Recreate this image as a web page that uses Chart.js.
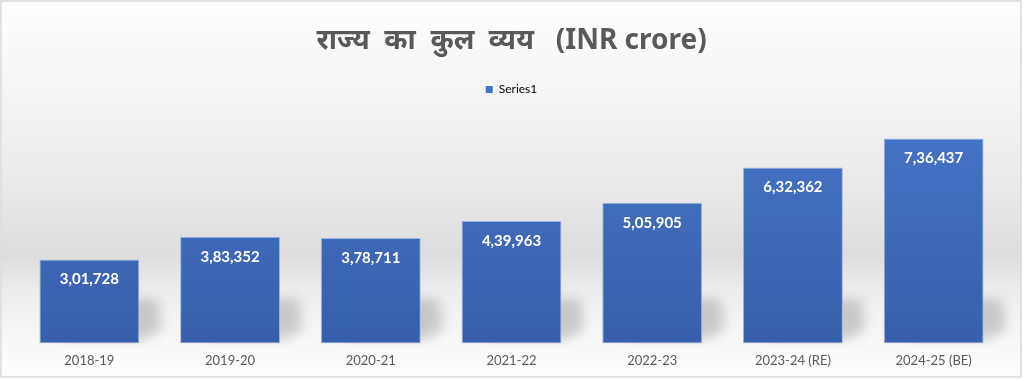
<!DOCTYPE html>
<html>
<head>
<meta charset="utf-8">
<script src="https://cdn.jsdelivr.net/npm/chart.js@4/dist/chart.umd.min.js"></script>
<style>
html,body{margin:0;padding:0;background:#ffffff;}
#wrap{position:relative;width:1024px;height:381px;}
</style>
</head>
<body>
<div id="wrap"><canvas id="c" width="1024" height="381"></canvas></div>
<script>
const categories = ["2018-19", "2019-20", "2020-21", "2021-22", "2022-23", "2023-24 (RE)", "2024-25 (BE)"];
const seriesValues = [301728, 383352, 378711, 439963, 505905, 632362, 736437];
const seriesLabel = "Series1";
const chartTitle = "राज्य  का  कुल  व्यय   (INR crore)";

function fmtIN(n) {
  const s = String(Math.round(n));
  if (s.length <= 3) return s;
  const last3 = s.slice(-3);
  let rest = s.slice(0, -3);
  const parts = [];
  while (rest.length > 2) { parts.unshift(rest.slice(-2)); rest = rest.slice(0, -2); }
  if (rest.length) parts.unshift(rest);
  return parts.join(",") + "," + last3;
}

const bgPlugin = {
  id: "bg",
  beforeDraw(chart) {
    const ctx = chart.ctx;
    const H = chart.height;
    ctx.save();
    const g = ctx.createLinearGradient(0, 0, 0, H);
    g.addColorStop(0, "#ffffff");
    g.addColorStop(0.25, "#f4f4f4");
    g.addColorStop(0.5, "#e9e9e9");
    g.addColorStop(0.67, "#dddddd");
    g.addColorStop(0.76, "#ececec");
    g.addColorStop(0.9, "#f8f8f8");
    g.addColorStop(1, "#ffffff");
    ctx.fillStyle = g;
    ctx.fillRect(1, 1, 1020, 376);
    ctx.strokeStyle = "#d9d9d9";
    ctx.lineWidth = 1.5;
    ctx.strokeRect(1, 1, 1020, 376);
    ctx.restore();
  }
};

const shadowPlugin = {
  id: "barShadow",
  beforeDatasetsDraw(chart) {
    const ctx = chart.ctx;
    const meta = chart.getDatasetMeta(0);
    ctx.save();
    ctx.filter = "blur(6px)";
    ctx.fillStyle = "rgba(90,90,90,0.28)";
    meta.data.forEach(bar => {
      const left = bar.x - bar.width / 2, right = bar.x + bar.width / 2;
      const base = bar.base;
      ctx.beginPath();
      ctx.moveTo(left + 24, base - 44);
      ctx.lineTo(right + 18, base - 44);
      ctx.lineTo(right + 22, base - 14);
      ctx.lineTo(right + 4, base - 4);
      ctx.lineTo(left + 24, base - 4);
      ctx.closePath();
      ctx.fill();
    });
    ctx.restore();
  }
};

const labelPlugin = {
  id: "valueLabels",
  afterDatasetsDraw(chart) {
    const ctx = chart.ctx;
    const meta = chart.getDatasetMeta(0);
    ctx.save();
    ctx.fillStyle = "#ffffff";
    ctx.font = "bold 15px Lato, 'Open Sans', sans-serif";
    ctx.textAlign = "center";
    ctx.textBaseline = "middle";
    meta.data.forEach((bar, i) => {
      ctx.fillText(fmtIN(chart.data.datasets[0].data[i]), bar.x, bar.y + 20);
    });
    ctx.restore();
  }
};

const ctx = document.getElementById("c").getContext("2d");
new Chart(ctx, {
  type: "bar",
  data: {
    labels: categories,
    datasets: [{
      label: seriesLabel,
      data: seriesValues,
      backgroundColor: (c) => {
        const a = c.chart.chartArea;
        if (!a) return "#4472c4";
        const g = c.chart.ctx.createLinearGradient(0, a.top, 0, a.bottom);
        g.addColorStop(0, "#4675c8");
        g.addColorStop(1, "#375fab");
        return g;
      },
      borderColor: "rgba(150,175,220,0.9)",
      borderWidth: 1,
      borderSkipped: false,
      barPercentage: 0.71,
      categoryPercentage: 1.0
    }]
  },
  options: {
    responsive: false,
    animation: false,
    devicePixelRatio: 1,
    layout: { padding: { left: 19, right: 20, top: 0, bottom: 2 } },
    plugins: {
      title: {
        display: true,
        text: chartTitle,
        color: "#595959",
        font: { size: 28, weight: "bold", family: "'Noto Sans', 'Open Sans', sans-serif" },
        padding: { top: 24, bottom: 16 }
      },
      legend: {
        display: true,
        position: "top",
        labels: {
          color: "#595959",
          boxWidth: 7,
          boxHeight: 7,
          font: { size: 12, family: "Lato, 'Open Sans', sans-serif" },
          generateLabels: (chart) => [{
            text: seriesLabel,
            fillStyle: "#4472c4",
            strokeStyle: "#4472c4",
            lineWidth: 0,
            datasetIndex: 0
          }]
        }
      },
      tooltip: { enabled: false }
    },
    scales: {
      x: {
        grid: { display: false, drawTicks: false },
        border: { display: false },
        ticks: { color: "#595959", font: { size: 13, family: "Lato, 'Open Sans', sans-serif" }, padding: 10 }
      },
      y: {
        display: false,
        min: 0,
        max: 855000
      }
    }
  },
  plugins: [bgPlugin, shadowPlugin, labelPlugin]
});
</script>
</body>
</html>
